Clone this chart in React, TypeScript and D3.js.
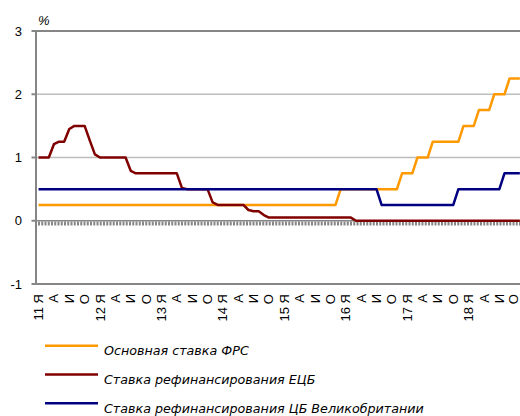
import React from "react";
import * as d3 from "d3";

const W = 520;
const H = 416;

const years = ["11", "12", "13", "14", "15", "16", "17", "18"];
const quarterLetters = ["Я", "А", "И", "О"];
const yTicks = [3, 2, 1, 0, -1];

// Monthly values, Jan 2011 – Nov 2018
const fedRate = [
  0.25, 0.25, 0.25, 0.25, 0.25, 0.25, 0.25, 0.25, 0.25, 0.25, 0.25, 0.25,
  0.25, 0.25, 0.25, 0.25, 0.25, 0.25, 0.25, 0.25, 0.25, 0.25, 0.25, 0.25,
  0.25, 0.25, 0.25, 0.25, 0.25, 0.25, 0.25, 0.25, 0.25, 0.25, 0.25, 0.25,
  0.25, 0.25, 0.25, 0.25, 0.25, 0.25, 0.25, 0.25, 0.25, 0.25, 0.25, 0.25,
  0.25, 0.25, 0.25, 0.25, 0.25, 0.25, 0.25, 0.25, 0.25, 0.25, 0.25, 0.5,
  0.5, 0.5, 0.5, 0.5, 0.5, 0.5, 0.5, 0.5, 0.5, 0.5, 0.5, 0.75,
  0.75, 0.75, 1.0, 1.0, 1.0, 1.25, 1.25, 1.25, 1.25, 1.25, 1.25, 1.5,
  1.5, 1.5, 1.75, 1.75, 1.75, 2.0, 2.0, 2.0, 2.25, 2.25, 2.25,
];

const ecbRate = [
  1.0, 1.0, 1.0, 1.21, 1.25, 1.25, 1.45, 1.5, 1.5, 1.5, 1.27, 1.05,
  1.0, 1.0, 1.0, 1.0, 1.0, 1.0, 0.79, 0.75, 0.75, 0.75, 0.75, 0.75,
  0.75, 0.75, 0.75, 0.75, 0.52, 0.5, 0.5, 0.5, 0.5, 0.5, 0.29, 0.25,
  0.25, 0.25, 0.25, 0.25, 0.25, 0.17, 0.15, 0.15, 0.09, 0.05, 0.05, 0.05,
  0.05, 0.05, 0.05, 0.05, 0.05, 0.05, 0.05, 0.05, 0.05, 0.05, 0.05, 0.05,
  0.05, 0.05, 0.0, 0.0, 0.0, 0.0, 0.0, 0.0, 0.0, 0.0, 0.0, 0.0,
  0.0, 0.0, 0.0, 0.0, 0.0, 0.0, 0.0, 0.0, 0.0, 0.0, 0.0, 0.0,
  0.0, 0.0, 0.0, 0.0, 0.0, 0.0, 0.0, 0.0, 0.0, 0.0, 0.0,
];

const boeRate = [
  0.5, 0.5, 0.5, 0.5, 0.5, 0.5, 0.5, 0.5, 0.5, 0.5, 0.5, 0.5,
  0.5, 0.5, 0.5, 0.5, 0.5, 0.5, 0.5, 0.5, 0.5, 0.5, 0.5, 0.5,
  0.5, 0.5, 0.5, 0.5, 0.5, 0.5, 0.5, 0.5, 0.5, 0.5, 0.5, 0.5,
  0.5, 0.5, 0.5, 0.5, 0.5, 0.5, 0.5, 0.5, 0.5, 0.5, 0.5, 0.5,
  0.5, 0.5, 0.5, 0.5, 0.5, 0.5, 0.5, 0.5, 0.5, 0.5, 0.5, 0.5,
  0.5, 0.5, 0.5, 0.5, 0.5, 0.5, 0.5, 0.25, 0.25, 0.25, 0.25, 0.25,
  0.25, 0.25, 0.25, 0.25, 0.25, 0.25, 0.25, 0.25, 0.25, 0.25, 0.5, 0.5,
  0.5, 0.5, 0.5, 0.5, 0.5, 0.5, 0.5, 0.75, 0.75, 0.75, 0.75,
];

const seriesNames = [
  "Основная ставка ФРС",
  "Ставка рефинансирования ЕЦБ",
  "Ставка рефинансирования ЦБ Великобритании",
];
const seriesColors = ["#FF9900", "#800000", "#000080"];
const seriesData = [fedRate, ecbRate, boeRate];

const TOTAL_MONTHS = 96;

export default function App() {
  const plotLeft = 36;
  const plotTop = 31;
  const plotBottom = 284;
  const x = d3.scaleLinear().domain([0, TOTAL_MONTHS]).range([plotLeft, plotLeft + 5.12 * TOTAL_MONTHS]);
  const y = d3.scaleLinear().domain([-1, 3]).range([plotBottom, plotTop]);

  const line = d3
    .line<number>()
    .x((_, i) => x(i + 0.5))
    .y((d) => y(d));

  const axisGray = "#868686";
  const gridGray = "#BDBDBD";
  const numFont = "'Liberation Sans', Arial, sans-serif";
  const legFont = "'DejaVu Sans', Verdana, sans-serif";

  const quarterLabels: { i: number; t: string }[] = [];
  years.forEach((_, yi) => {
    quarterLetters.forEach((q, qi) => {
      const i = yi * 12 + qi * 3;
      if (i < fedRate.length) quarterLabels.push({ i, t: q });
    });
  });

  return (
    <svg
      width={W}
      height={H}
      viewBox={`0 0 ${W} ${H}`}
      style={{ position: "absolute", left: 0, top: 0, background: "#fff" }}
    >
      <rect x={0} y={0} width={W} height={H} fill="#fff" />
      {[2, 1].map((v) => (
        <line key={v} x1={plotLeft} x2={W} y1={y(v)} y2={y(v)} stroke={gridGray} strokeWidth={1.3} />
      ))}
      <line x1={plotLeft} x2={W} y1={y(3)} y2={y(3)} stroke={axisGray} strokeWidth={2} />
      <line x1={plotLeft} x2={W} y1={y(-1)} y2={y(-1)} stroke={axisGray} strokeWidth={2} />
      <line x1={plotLeft} x2={W} y1={y(0)} y2={y(0)} stroke={axisGray} strokeWidth={1.5} />
      <line
        x1={plotLeft + 2}
        x2={W}
        y1={y(0) + 2.8}
        y2={y(0) + 2.8}
        stroke={axisGray}
        strokeWidth={4}
        strokeDasharray="2 1.25"
      />
      <line x1={plotLeft} x2={plotLeft} y1={plotTop} y2={plotBottom} stroke={axisGray} strokeWidth={2} />
      {yTicks.map((v) => (
        <g key={v}>
          <line x1={plotLeft - 4.5} x2={plotLeft} y1={y(v)} y2={y(v)} stroke={axisGray} strokeWidth={2} />
          <text
            x={22}
            y={y(v)}
            textAnchor="end"
            dominantBaseline="central"
            fontFamily={numFont}
            fontSize={13}
            fill="#000"
          >
            {v}
          </text>
        </g>
      ))}
      <text x={38} y={25} fontFamily={numFont} fontSize={13} fontStyle="italic" fill="#000">
        %
      </text>

      {seriesData.map((d, si) => (
        <path
          key={si}
          d={line(d) || ""}
          fill="none"
          stroke={seriesColors[si]}
          strokeWidth={2.5}
          strokeLinejoin="round"
        />
      ))}

      {quarterLabels.map((q) => (
        <text
          key={q.i}
          transform={`translate(${Math.min(x(q.i + 0.5), 513)},${294}) rotate(-90)`}
          textAnchor="end"
          dominantBaseline="central"
          fontFamily={numFont}
          fontSize={13}
          fill="#000"
        >
          {q.t}
        </text>
      ))}
      {years.map((yr, yi) => (
        <text
          key={yr}
          transform={`translate(${x(yi * 12 + 0.5)},${307}) rotate(-90)`}
          textAnchor="end"
          dominantBaseline="central"
          fontFamily={numFont}
          fontSize={13}
          fill="#000"
        >
          {yr}
        </text>
      ))}

      {seriesNames.map((n, si) => {
        const ly = 345.7 + si * 28.8;
        return (
          <g key={n}>
            <line x1={45} x2={98} y1={ly} y2={ly} stroke={seriesColors[si]} strokeWidth={2.5} />
            <text
              x={104}
              y={ly + 5}
              dominantBaseline="central"
              fontFamily={legFont}
              fontStyle="italic"
              fontSize={12.7}
              fill="#000"
            >
              {n}
            </text>
          </g>
        );
      })}
    </svg>
  );
}
